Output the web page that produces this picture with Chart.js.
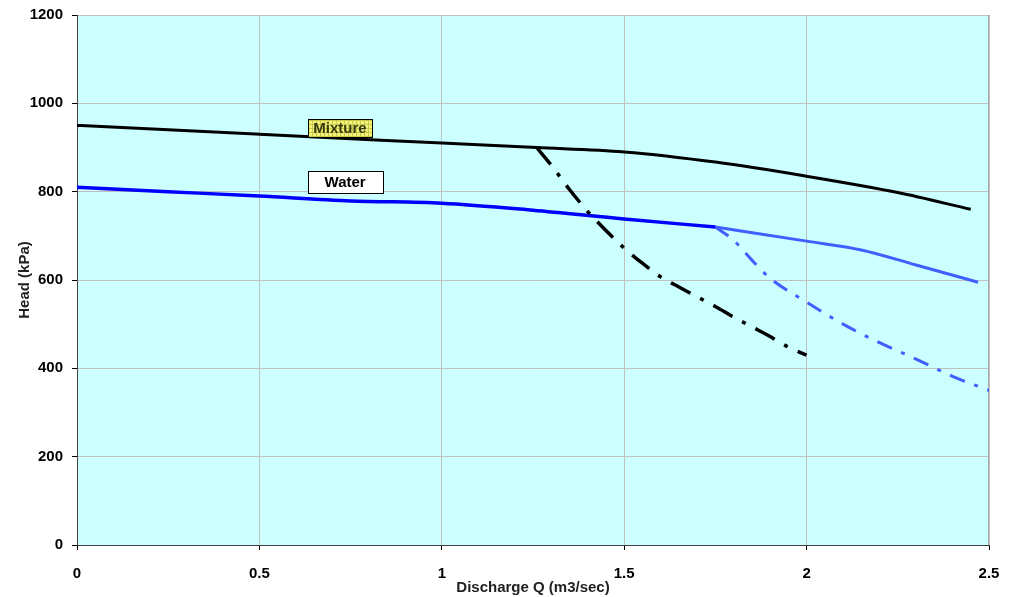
<!DOCTYPE html>
<html>
<head>
<meta charset="utf-8">
<script src="https://cdn.jsdelivr.net/npm/chart.js@4/dist/chart.umd.min.js"></script>
<style>
  html, body { margin: 0; padding: 0; background: #ffffff; }
  #wrap { width: 1015px; height: 597px; position: relative; }
</style>
</head>
<body>
<div id="wrap"><canvas id="c" width="1015" height="597"></canvas></div>
<script>
// Pump head curves: discharge Q (m3/sec) against head (kPa)
const mixtureQ    = [0, 0.25, 0.5, 0.75, 1.0, 1.26, 1.5, 1.75, 2.0, 2.25, 2.45];
const mixtureHead = [950, 940, 930, 920, 910, 900, 890, 867, 835, 798, 760];

const mixtureCutQ    = [1.26, 1.3, 1.35, 1.4, 1.45, 1.5, 1.55, 1.6, 1.65, 1.7, 1.75, 1.8, 1.85, 1.9, 1.95, 2.0];
const mixtureCutHead = [900, 860, 805, 755, 712, 672, 638, 607, 584, 562, 540, 516, 494, 472, 448, 430];

const waterQ    = [0, 0.25, 0.5, 0.75, 1.0, 1.25, 1.5, 1.75];
const waterHead = [810, 800, 790, 779, 774, 758, 738, 720];

const waterExtQ    = [1.75, 2.0, 2.15, 2.3, 2.47];
const waterExtHead = [720, 688, 668, 634, 595];

const waterCutQ    = [1.75, 1.8, 1.85, 1.9, 2.0, 2.1, 2.2, 2.3, 2.4, 2.5];
const waterCutHead = [720, 690, 645, 604, 550, 500, 458, 421, 382, 350];

// Curve labels, anchored in data units
const curveLabels = [
  { text: 'Mixture', q: 0.721, head: 944, style: 'pattern' },
  { text: 'Water',   q: 0.735, head: 822, style: 'plain' }
];

const xTicks = [0, 0.5, 1, 1.5, 2, 2.5];
const yTicks = [0, 200, 400, 600, 800, 1000, 1200];

function pts(xs, ys) { return xs.map((x, i) => ({ x: x, y: ys[i] })); }

const FONT = '"Liberation Sans", Arial, sans-serif';

function makePattern(ctx) {
  const p = document.createElement('canvas');
  p.width = 4; p.height = 4;
  const g = p.getContext('2d');
  g.fillStyle = '#f2f27a';
  g.fillRect(0, 0, 4, 4);
  g.fillStyle = '#c9c94a';
  g.fillRect(0, 0, 1, 4);
  g.fillRect(0, 0, 4, 1);
  return ctx.createPattern(p, 'repeat');
}

const plotFrame = {
  id: 'plotFrame',
  beforeDatasetsDraw(chart) {
    const { ctx, chartArea: a } = chart;
    ctx.save();
    ctx.strokeStyle = '#a8a8a8';
    ctx.lineWidth = 1;
    ctx.beginPath();
    ctx.moveTo(a.right - 0.5, a.top);
    ctx.lineTo(a.right - 0.5, a.bottom);
    ctx.stroke();
    ctx.restore();
  },
  afterDatasetsDraw(chart) {
    const { ctx, scales } = chart;
    ctx.save();
    ctx.font = 'bold 15px ' + FONT;
    ctx.textAlign = 'center';
    ctx.textBaseline = 'middle';
    curveLabels.forEach(l => {
      const cx = scales.x.getPixelForValue(l.q);
      const cy = scales.y.getPixelForValue(l.head);
      const w = l.style === 'pattern' ? 64 : 75;
      const h = l.style === 'pattern' ? 18 : 22;
      const x0 = Math.round(cx - w / 2) + 0.5, y0 = Math.round(cy - h / 2) + 0.5;
      ctx.fillStyle = l.style === 'pattern' ? makePattern(ctx) : '#ffffff';
      ctx.fillRect(x0, y0, w, h);
      ctx.strokeStyle = '#000000';
      ctx.lineWidth = 1;
      ctx.strokeRect(x0, y0, w, h);
      ctx.fillStyle = l.style === 'pattern' ? '#3a3a10' : '#000000';
      ctx.fillText(l.text, cx, cy + 1);
    });
    ctx.restore();
  }
};

const plotBg = {
  id: 'plotBg',
  beforeDraw(chart) {
    const { ctx, chartArea: a } = chart;
    ctx.save();
    ctx.fillStyle = '#ccffff';
    ctx.fillRect(a.left, a.top, a.right - a.left, a.bottom - a.top);
    ctx.restore();
  }
};

const base = { showLine: true, pointRadius: 0, fill: false, cubicInterpolationMode: 'monotone' };

new Chart(document.getElementById('c'), {
  type: 'scatter',
  data: {
    datasets: [
      Object.assign({}, base, { label: 'Mixture', data: pts(mixtureQ, mixtureHead), borderColor: '#000000', borderWidth: 3 }),
      Object.assign({}, base, { label: 'Mixture (cut)', data: pts(mixtureCutQ, mixtureCutHead), borderColor: '#000000', borderWidth: 3.5, borderDash: [22, 11, 4, 11] }),
      Object.assign({}, base, { label: 'Water', data: pts(waterQ, waterHead), borderColor: '#0000ff', borderWidth: 3.5 }),
      Object.assign({}, base, { label: 'Water (ext)', data: pts(waterExtQ, waterExtHead), borderColor: '#3f5fff', borderWidth: 3 }),
      Object.assign({}, base, { label: 'Water (cut)', data: pts(waterCutQ, waterCutHead), borderColor: '#3f5fff', borderWidth: 3, borderDash: [16, 10, 4, 10] })
    ]
  },
  options: {
    responsive: false,
    animation: false,
    layout: { padding: { left: 16, right: 26, top: 15, bottom: 0 } },
    plugins: { legend: { display: false }, tooltip: { enabled: false } },
    scales: {
      x: {
        type: 'linear',
        min: 0, max: 2.5,
        afterBuildTicks(s) { s.ticks = xTicks.map(v => ({ value: v })); },
        afterFit(s) { s.height = 52; s.paddingLeft = 0; s.paddingRight = 0; },
        ticks: {
          color: '#000000',
          font: { family: FONT, size: 15, weight: 'bold' },
          padding: 15,
          maxRotation: 0,
          callback: v => String(v)
        },
        grid: { color: '#c0c0c0', lineWidth: 1, tickColor: '#000000', tickLength: 5, drawOnChartArea: true },
        border: { display: true, color: '#404040', width: 1 },
        title: {
          display: true, text: 'Discharge Q (m3/sec)', color: '#222222',
          font: { family: FONT, size: 15, weight: 'bold' }, padding: { top: 0, bottom: 0 }
        }
      },
      y: {
        type: 'linear',
        min: 0, max: 1200,
        afterBuildTicks(s) { s.ticks = yTicks.map(v => ({ value: v })); },
        afterFit(s) { s.width = 61; s.paddingTop = 0; s.paddingBottom = 0; },
        ticks: {
          color: '#000000',
          font: { family: FONT, size: 15, weight: 'bold' },
          padding: 9,
          callback: v => String(v)
        },
        grid: { color: '#c0c0c0', lineWidth: 1, tickColor: '#000000', tickLength: 5 },
        border: { display: true, color: '#404040', width: 1 },
        title: {
          display: true, text: 'Head (kPa)', color: '#222222',
          font: { family: FONT, size: 15, weight: 'bold' }, padding: { top: 0, bottom: 0 }
        }
      }
    }
  },
  plugins: [plotBg, plotFrame]
});
</script>
</body>
</html>
